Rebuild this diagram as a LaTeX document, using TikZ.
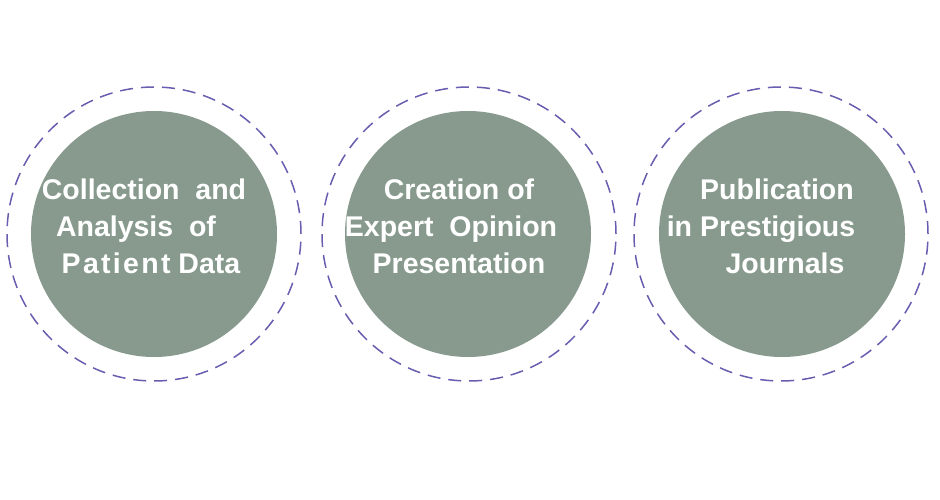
\documentclass[tikz,border=0pt]{standalone}
\usepackage{fontspec}
\setmainfont{Liberation Sans}
\definecolor{sage}{RGB}{135,154,141}
\definecolor{ringblue}{RGB}{104,94,176}
\tikzset{
  stage/.style={circle,fill=sage,minimum size=246pt,inner sep=0pt},
  ring/.style={circle,draw=ringblue,line width=1.5pt,dash pattern=on 13pt off 8pt,minimum size=294pt,inner sep=0pt},
  label/.style={text=white,font=\bfseries\fontsize{28.5}{37}\selectfont,align=center}
}
\def\sp{\kern2.3pt}
\begin{document}
\begin{tikzpicture}[x=1pt,y=-1pt]
            \useasboundingbox (0,0) rectangle (940,500);
            \node [ring] (r1) at (154,234) {};
            \node [stage] (s1) at (154,234) {};
            \node [label] (t1) at (144,226) {Collection\ \ and\\Analysis\ \ of\hspace*{16pt}\mbox{}\\\hspace*{14pt}P\sp a\sp t\sp i\sp e\sp n\sp t Data};
            \node [ring] (r2) at (469,234) {};
            \node [stage] (s2) at (468,234) {};
            \node [label] (t2) at (459,226) {Creation of\\Expert\ \ Opinion\hspace*{16pt}\mbox{}\\Presentation};
            \node [ring] (r3) at (781,234) {};
            \node [stage] (s3) at (782,234) {};
            \node [label] (t3) at (777,226) {Publication\\in Prestigious\hspace*{32pt}\mbox{}\\\hspace*{16pt}Journals};
        \end{tikzpicture}
\end{document}
